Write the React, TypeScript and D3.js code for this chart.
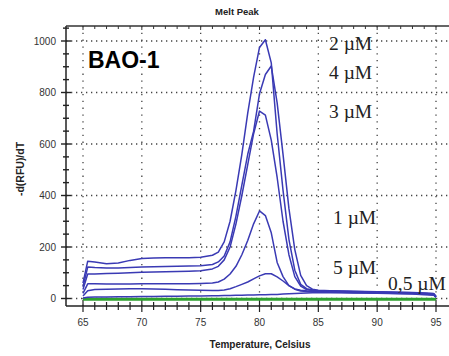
import React from "react";
import * as d3 from "d3";

const temps = [65, 65.4, 66, 67, 68, 69, 70, 71, 72, 73, 74, 75, 76, 76.5, 77, 77.5, 78, 78.5, 79, 79.5, 80, 80.5, 81, 81.5, 82, 82.5, 83, 83.5, 84, 84.5, 85, 86, 87, 88, 89, 90, 91, 92, 93, 94, 94.8, 95];

const s2uM = [60,145,142,135,138,148,155,157,158,158,158,160,168,180,220,300,420,560,720,860,975,1005,915,640,420,230,110,55,38,33,30,29,28,27,26,25,24,23,22,20,18,8];
const s4uM = [45,122,120,118,118,120,122,123,124,125,126,127,132,142,165,220,320,440,560,650,795,870,903,760,560,350,190,90,50,36,32,30,29,28,27,26,25,24,23,21,19,9];
const s3uM = [35,95,95,97,98,100,102,103,104,105,106,108,115,125,150,200,290,400,520,640,728,712,615,470,300,170,85,48,35,31,29,28,27,26,25,24,23,22,21,19,17,7];
const s1uM = [20,57,57,56,56,56,57,57,57,57,57,58,60,64,75,95,125,170,225,290,340,322,255,140,85,50,37,32,30,29,28,27,26,25,24,23,22,21,20,18,16,6];
const s5uM = [10,30,35,36,37,38,38,37,36,34,33,32,31,31,33,38,46,55,64,76,88,96,96,84,68,50,36,29,27,26,25,24,23,22,21,20,19,18,17,15,13,5];
const s05uM = [2,5,6,6,7,7,8,8,9,9,10,10,11,11,12,12,13,13,14,14,15,15,16,16,17,18,19,20,21,22,23,22,22,21,21,20,20,19,18,17,15,5];
const blueSeries = [s2uM, s4uM, s3uM, s1uM, s5uM, s05uM];

const greenTemps = [65, 95];
const greenValues = [-3, -3];

const xTicksMajor = [65, 70, 75, 80, 85, 90, 95];
const xTicksMinor = d3.range(65, 96, 1);
const yTicksMajor = [0, 200, 400, 600, 800, 1000];
const yTicksMinor = d3.range(0, 1051, 50);

const labels = ["2 µM", "4 µM", "3 µM", "1 µM", "5 µM", "0,5 µM"];
const labelPos = [
  { x: 329, y: 50 },
  { x: 329, y: 79 },
  { x: 329, y: 118 },
  { x: 333, y: 224 },
  { x: 333, y: 274 },
  { x: 388, y: 290 },
];

export default function App() {
  const W = 449, H = 356;
  const x = d3.scaleLinear().domain([65, 95]).range([83, 436]);
  const y = d3.scaleLinear().domain([0, 1000]).range([298.5, 41]);
  const left = 66, right = 449, top = 26, bottom = 306;

  const line = d3
    .line<number>()
    .x((_, i) => x(temps[i]))
    .y((d) => y(d))
    .curve(d3.curveLinear);

  const gline = d3
    .line<number>()
    .x((_, i) => x(greenTemps[i]))
    .y((d) => y(d));

  const gridColor = "#444";
  const sans = "'Liberation Sans', Arial, sans-serif";

  return (
    <svg width={W} height={H} style={{ position: "absolute", left: 0, top: 0, background: "#fff" }}>
      <rect width={W} height={H} fill="#fff" />
      <text x={237} y={15} textAnchor="middle" fontFamily={sans} fontWeight="bold" fontSize={9.5} fill="#222">
        Melt Peak
      </text>
      {/* grid */}
      {xTicksMajor.map((t) => (
        <line key={"gx" + t} x1={x(t)} x2={x(t)} y1={top} y2={bottom} stroke={gridColor} strokeWidth={1.3} strokeDasharray="1.3 5.5" />
      ))}
      {yTicksMajor.map((t) => (
        <line key={"gy" + t} x1={left} x2={right} y1={y(t)} y2={y(t)} stroke={gridColor} strokeWidth={1.3} strokeDasharray="1.3 3.7" />
      ))}
      {/* axes */}
      <line x1={left} x2={left} y1={top} y2={bottom} stroke="#222" strokeWidth={1.5} />
      <line x1={left} x2={right} y1={bottom} y2={bottom} stroke="#222" strokeWidth={1.5} />
      <line x1={left} x2={right} y1={top} y2={top} stroke="#333" strokeWidth={1.3} />
      {xTicksMinor.map((t) => (
        <g key={"xt" + t}>
          <line x1={x(t)} x2={x(t)} y1={bottom - (t % 5 === 0 ? 6 : 4)} y2={bottom + (t % 5 === 0 ? 6 : 4)} stroke="#222" strokeWidth={1.2} />
          <line x1={x(t)} x2={x(t)} y1={top} y2={top + (t % 5 === 0 ? 4 : 3)} stroke="#333" strokeWidth={1} />
        </g>
      ))}
      {yTicksMinor.map((t) => (
        <line key={"yt" + t} x1={left - (t % 200 === 0 ? 5 : 3)} x2={left + (t % 200 === 0 ? 5 : 3)} y1={y(t)} y2={y(t)} stroke="#222" strokeWidth={1.4} />
      ))}
      {xTicksMajor.map((t) => (
        <text key={"xl" + t} x={x(t)} y={326} textAnchor="middle" fontFamily={sans} fontSize={10} fill="#333">
          {t}
        </text>
      ))}
      {yTicksMajor.map((t) => (
        <text key={"yl" + t} x={56} y={y(t) + 3.5} textAnchor="end" fontFamily={sans} fontSize={10} fill="#333">
          {t}
        </text>
      ))}
      <text x={260} y={348} textAnchor="middle" fontFamily={sans} fontWeight="bold" fontSize={10} fill="#222">
        Temperature, Celsius
      </text>
      <text transform={`translate(24,169) rotate(-90)`} textAnchor="middle" fontFamily={sans} fontWeight="bold" fontSize={10.5} fill="#222">
        -d(RFU)/dT
      </text>
      {/* series */}
      <path d={gline(greenValues) || ""} fill="none" stroke="#2ea02e" strokeWidth={3} />
      {blueSeries.map((s, i) => (
        <path key={"s" + i} d={line(s) || ""} fill="none" stroke="#3a3ab4" strokeWidth={1.5} strokeLinejoin="round" />
      ))}
      {/* labels */}
      <text x={88} y={68} fontFamily={sans} fontWeight="bold" fontSize={23} fill="#000">
        BAO-1
      </text>
      {labels.map((l, i) => (
        <text key={"lb" + i} x={labelPos[i].x} y={labelPos[i].y} fontFamily="'Liberation Serif', 'Times New Roman', serif" fontSize={19.5} fill="#222">
          {l}
        </text>
      ))}
    </svg>
  );
}
